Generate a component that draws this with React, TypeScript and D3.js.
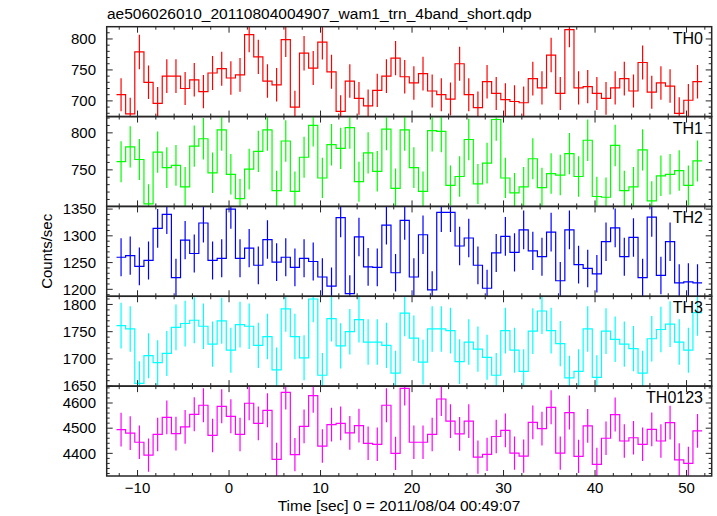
import React from 'react';
import * as d3 from 'd3';

const TITLE = 'ae506026010_20110804004907_wam1_trn_4band_short.qdp';
const X_LABEL = 'Time [sec] 0 = 2011/08/04 00:49:07';
const Y_LABEL = 'Counts/sec';
const BIN_START = -12.3;
const BIN_WIDTH = 1;
const X_TICKS = [-10, 0, 10, 20, 30, 40, 50];

const TH0 = [710, 679, 779, 730, 696, 740, 740, 720, 734, 715, 745, 752, 737, 742, 807, 771, 732, 726, 799, 690, 777, 753, 795, 747, 683, 732, 704, 692, 717, 740, 769,
  739, 729, 744, 716, 710, 703, 760, 710, 689, 731, 712, 702, 699, 697, 736, 721, 774, 712, 815, 721, 723, 712, 704, 721, 736, 716, 762, 714, 729, 724, 680, 701, 731];
const TH1 = [761, 781, 764, 704, 774, 753, 756, 727, 782, 792, 746, 804, 744, 711, 751, 775, 804, 722, 789, 721, 767, 810, 739, 784, 779, 807, 734, 773, 748, 805, 725,
  804, 753, 721, 803, 802, 729, 741, 791, 731, 759, 818, 739, 719, 727, 765, 726, 745, 743, 772, 741, 790, 714, 713, 783, 722, 727, 777, 708, 742, 744, 749, 729, 762];
const TH2 = [1260, 1263, 1243, 1254, 1314, 1340, 1222, 1292, 1267, 1324, 1254, 1258, 1350, 1258, 1277, 1245, 1293, 1251, 1260, 1241, 1258, 1252, 1223, 1206, 1334, 1192, 1298, 1242, 1241, 1320, 1231,
  1329, 1223, 1302, 1199, 1344, 1344, 1281, 1296, 1245, 1202, 1268, 1299, 1269, 1311, 1272, 1261, 1307, 1216, 1311, 1246, 1239, 1229, 1289, 1315, 1261, 1297, 1222, 1335, 1226, 1289, 1212, 1214, 1212];
const TH3 = [1761, 1755, 1655, 1706, 1693, 1710, 1758, 1765, 1771, 1760, 1727, 1770, 1716, 1763, 1760, 1725, 1741, 1680, 1792, 1741, 1702, 1810, 1670, 1774, 1724, 1750, 1772, 1731, 1731, 1725, 1674,
  1784, 1738, 1694, 1755, 1755, 1752, 1695, 1731, 1718, 1703, 1670, 1752, 1716, 1677, 1751, 1788, 1752, 1728, 1665, 1677, 1755, 1666, 1751, 1736, 1727, 1719, 1674, 1737, 1754, 1764, 1731, 1716, 1785];
const TH0123 = [4494, 4480, 4444, 4393, 4475, 4543, 4478, 4505, 4555, 4591, 4471, 4587, 4547, 4475, 4599, 4519, 4571, 4376, 4642, 4395, 4507, 4629, 4429, 4514, 4519, 4481, 4510, 4440, 4436, 4591, 4400,
  4658, 4444, 4444, 4475, 4616, 4528, 4477, 4528, 4385, 4396, 4467, 4491, 4401, 4389, 4523, 4498, 4583, 4401, 4562, 4388, 4509, 4356, 4460, 4554, 4449, 4462, 4436, 4495, 4449, 4522, 4374, 4360, 4489];

const NAMES = ['TH0', 'TH1', 'TH2', 'TH3', 'TH0123'];
const COLORS = ['#ff0000', '#00ff00', '#0000ff', '#00ffff', '#ff00ff'];
const SERIES = [TH0, TH1, TH2, TH3, TH0123];
const Y_DOMAINS: [number, number][] = [[674.7, 819.8], [700.6, 822], [1187, 1355], [1650, 1815], [4310, 4667]];
const Y_MAJOR = [50, 50, 50, 50, 100];
const Y_MINOR = [10, 10, 10, 10, 20];

const W = 717, H = 516;
const LEFT = 106.7, RIGHT = 711.7, TOP = 26.7, BOTTOM = 476;
const PH = (BOTTOM - TOP) / 5;
const FONT = 'Liberation Sans, Arial, Helvetica, sans-serif';
const AXIS = '#262626';

export default function App() {
  const x = d3.scaleLinear().domain([-13.37, 52.75]).range([LEFT, RIGHT]);
  const xMinor = d3.range(-12, 53, 2);
  return (
    <svg width={W} height={H} style={{ position: 'absolute', left: 0, top: 0, background: '#fff' }}>
      <rect x={0} y={0} width={W} height={H} fill="#fff" />
      <defs>
        {NAMES.map((n, i) => (
          <clipPath id={`clip${i}`} key={n}>
            <rect x={LEFT} y={TOP + i * PH} width={RIGHT - LEFT} height={PH} />
          </clipPath>
        ))}
      </defs>
      <text x={107} y={19} fontFamily={FONT} fontSize={15.5} fill="#000">{TITLE}</text>
      {SERIES.map((vals, i) => {
        const top = TOP + i * PH;
        const bot = top + PH;
        const y = d3.scaleLinear().domain(Y_DOMAINS[i]).range([bot, top]);
        const [d0, d1] = Y_DOMAINS[i];
        const majors = d3.range(Math.ceil(d0 / Y_MAJOR[i]) * Y_MAJOR[i], d1 + 0.001, Y_MAJOR[i]);
        const minors = d3.range(Math.ceil(d0 / Y_MINOR[i]) * Y_MINOR[i], d1 + 0.001, Y_MINOR[i]);
        let d = '';
        vals.forEach((v, k) => {
          const e0 = x(BIN_START + k * BIN_WIDTH);
          const e1 = x(BIN_START + (k + 1) * BIN_WIDTH);
          d += (k === 0 ? `M${e0},${y(v)}` : `V${y(v)}`) + `H${e1}`;
        });
        const col = COLORS[i];
        return (
          <g key={NAMES[i]}>
            <g clipPath={`url(#clip${i})`}>
              {vals.map((v, k) => {
                const c = x(BIN_START + (k + 0.5) * BIN_WIDTH);
                const err = Math.sqrt(v * BIN_WIDTH) / BIN_WIDTH;
                return <line key={k} x1={c} x2={c} y1={y(v - err)} y2={y(v + err)} stroke={col} strokeWidth={1.2} />;
              })}
              <path d={d} fill="none" stroke={col} strokeWidth={1.2} />
            </g>
            {minors.map((t) => {
              const isMaj = majors.some((m) => Math.abs(m - t) < 1e-6);
              const len = isMaj ? 6 : 3;
              return (
                <g key={'y' + t}>
                  <line x1={LEFT} x2={LEFT + len} y1={y(t)} y2={y(t)} stroke={AXIS} strokeWidth={1} />
                  <line x1={RIGHT} x2={RIGHT - len} y1={y(t)} y2={y(t)} stroke={AXIS} strokeWidth={1} />
                </g>
              );
            })}
            {xMinor.map((t) => {
              const len = t % 10 === 0 ? 6 : 3;
              return (
                <g key={'x' + t}>
                  <line x1={x(t)} x2={x(t)} y1={top} y2={top + len} stroke={AXIS} strokeWidth={1} />
                  <line x1={x(t)} x2={x(t)} y1={bot} y2={bot - len} stroke={AXIS} strokeWidth={1} />
                </g>
              );
            })}
            {majors.map((t) => (
              <text key={'l' + t} x={96} y={y(t)} dy="0.35em" textAnchor="end" fontFamily={FONT} fontSize={15} fill="#000">{t}</text>
            ))}
            <text x={703} y={top + 17} textAnchor="end" fontFamily={FONT} fontSize={16} fill="#000">{NAMES[i]}</text>
            <rect x={LEFT} y={top} width={RIGHT - LEFT} height={PH} fill="none" stroke={AXIS} strokeWidth={1.5} />
          </g>
        );
      })}
      {X_TICKS.map((t) => (
        <text key={t} x={x(t)} y={493} textAnchor="middle" fontFamily={FONT} fontSize={15} fill="#000">{t < 0 ? '\u2212' + Math.abs(t) : t}</text>
      ))}
      <text x={399} y={511} textAnchor="middle" fontFamily={FONT} fontSize={15.5} fill="#000">{X_LABEL}</text>
      <text transform={`translate(52,${(TOP + BOTTOM) / 2}) rotate(-90)`} textAnchor="middle" fontFamily={FONT} fontSize={15} fill="#000">{Y_LABEL}</text>
    </svg>
  );
}
